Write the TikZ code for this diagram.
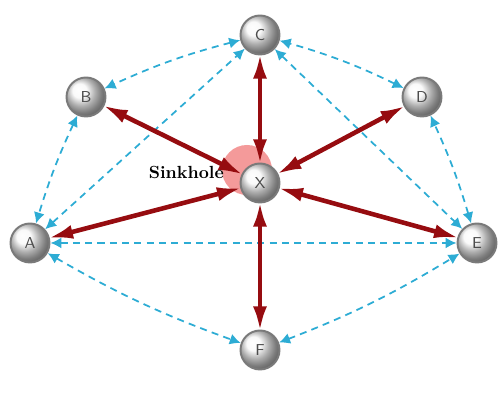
\documentclass[tikz,border=0pt]{standalone}
\usepackage{tikz}
\usetikzlibrary{arrows.meta,shadings}
\usepackage{xcolor}
\definecolor{sinkred}{RGB}{150,12,16}
\definecolor{linkblue}{RGB}{45,172,212}
\definecolor{halo}{RGB}{240,120,120}
\definecolor{rim}{HTML}{7a7a7a}

\begin{document}
\begin{tikzpicture}[
  x=0.02cm, y=0.02cm,
  peer/.style={circle, draw=rim, line width=1.1pt, shading=ball, ball color=gray!6,
               minimum size=0.78cm, inner sep=0pt, font=\sffamily\small, text=black!70},
  flow/.style={{Latex[length=5mm,width=2.8mm]}-{Latex[length=5mm,width=2.8mm]},
               draw=sinkred, line width=2.6pt, shorten <=-1pt, shorten >=-1pt},
  link/.style={{Latex[length=2.2mm,width=2.2mm]}-{Latex[length=2.2mm,width=2.2mm]},
               draw=linkblue, line width=1pt, dash pattern=on 4pt off 3pt}
]
  \useasboundingbox (0,0) rectangle (501,394);

  % attracted area behind the sinkhole node
  \fill[halo, opacity=0.75] (247,224) circle (25);

  % Nodes
  \node[peer] (C) at (260,359) {C};
  \node[peer] (B) at (86,297)  {B};
  \node[peer] (D) at (422,297) {D};
  \node[peer] (A) at (30,151)  {A};
  \node[peer] (E) at (477,151) {E};
  \node[peer] (F) at (260,44)  {F};

  % Outer links
  \draw[link] (A) to[bend right=5] (F);
  \draw[link] (F) to[bend right=5] (E);
  \draw[link] (E) to[bend right=4] (D);
  \draw[link] (D) to[bend right=5] (C);
  \draw[link] (C) to[bend right=5] (B);
  \draw[link] (B) to[bend right=4] (A);

  % Inner links
  \draw[link] (A) -- (C);
  \draw[link] (C) -- (E);
  \draw[link] (A) -- (E);

  \node[peer] (X) at (260,211) {X};
  \node[font=\bfseries, anchor=east] (sink) at (230,222) {Sinkhole};

  % Traffic drawn to X
  \draw[flow] (X) -- (C);
  \draw[flow] (X) -- (B);
  \draw[flow] (X) -- (D);
  \draw[flow] (X) -- (A);
  \draw[flow] (X) -- (E);
  \draw[flow] (X) -- (F);

\end{tikzpicture}
\end{document}
